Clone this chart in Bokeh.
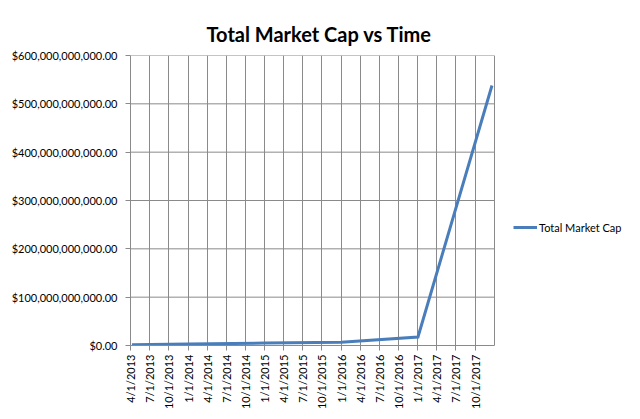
import pandas as pd
from math import pi
from bokeh.plotting import figure
from bokeh.models import (NumeralTickFormatter, FixedTicker, Legend, LegendItem,
                          Range1d)
from bokeh.embed import file_html
from bokeh.resources import INLINE

# ---- data ----
tick_labels = ["4/1/2013", "7/1/2013", "10/1/2013", "1/1/2014", "4/1/2014",
               "7/1/2014", "10/1/2014", "1/1/2015", "4/1/2015", "7/1/2015",
               "10/1/2015", "1/1/2016", "4/1/2016", "7/1/2016", "10/1/2016",
               "1/1/2017", "4/1/2017", "7/1/2017", "10/1/2017"]
grid_end_label = "1/1/2018"
dates = ["2013-04-08", "2014-01-01", "2015-01-01", "2016-01-01",
         "2017-01-01", "2017-12-20"]
market_cap = [1.5e9, 3.0e9, 5.0e9, 6.8e9, 17.5e9, 538e9]
y_ticks = [0, 100e9, 200e9, 300e9, 400e9, 500e9, 600e9]
series_name = "Total Market Cap"
title_text = "Total Market Cap vs Time"

# ---- derived ----
x = pd.to_datetime(dates)
tick_ts = pd.to_datetime(tick_labels, format="%m/%d/%Y")
tick_ms = [float(t.value // 10**6) for t in tick_ts]
end_ms = float(pd.to_datetime(grid_end_label, format="%m/%d/%Y").value // 10**6)

# layout (pixels)
W, H = 640, 419
LEFT, TOP, BOTTOM = 130, 55, 74
PLOT_RIGHT = 494          # where the plot area ends
FRAME_RIGHT = 630         # frame extends further so the legend can sit there
span = end_ms - tick_ms[0]
x_view_end = tick_ms[0] + span * (FRAME_RIGHT - LEFT) / (PLOT_RIGHT - LEFT)

FONT = "Lato"
GRID = "#8a8a8a"
FS = "11px"

p = figure(width=W, height=H, x_axis_type="datetime",
           output_backend="svg", toolbar_location=None,
           x_range=Range1d(tick_ms[0], x_view_end),
           y_range=Range1d(y_ticks[0], y_ticks[-1]),
           min_border_left=LEFT, min_border_right=W - FRAME_RIGHT,
           min_border_top=TOP, min_border_bottom=BOTTOM)

p.background_fill_color = "white"
p.border_fill_color = "white"
p.outline_line_color = None
# thin chart-area frame like the spreadsheet chart's border
p.styles = {"outline": "1px solid #b8b8b8", "outline-offset": "-5px"}

# title
p.title.text = title_text
p.title.align = "left"
p.title.offset = 76
p.title.text_font = FONT
p.title.text_font_style = "bold"
p.title.text_font_size = "20px"
p.title.text_color = "black"
p.title.standoff = 20

# horizontal gridlines, spanning only the plot area
p.segment(x0=[tick_ms[0]] * len(y_ticks), y0=y_ticks,
          x1=[end_ms] * len(y_ticks), y1=y_ticks,
          line_color=GRID, line_width=1)

r = p.line(x, market_cap, line_color="#4a7ebb", line_width=3,
           line_join="miter")

# x axis
xa = p.xaxis[0]
xa.ticker = FixedTicker(ticks=tick_ms)
xa.bounds = (tick_ms[0], end_ms)
xa.major_label_overrides = {ms: lab for ms, lab in zip(tick_ms, tick_labels)}
xa.major_label_orientation = pi / 2
xa.major_label_text_font = FONT
xa.major_label_text_font_size = FS
xa.major_label_text_color = "black"
xa.major_label_standoff = 4
xa.axis_line_color = GRID
xa.major_tick_line_color = GRID
xa.major_tick_out = 5
xa.major_tick_in = 0
xa.minor_tick_line_color = None

# y axis
ya = p.yaxis[0]
ya.ticker = FixedTicker(ticks=y_ticks)
ya.formatter = NumeralTickFormatter(format="$0,0.00")
ya.major_label_text_font = FONT
ya.major_label_text_font_size = FS
ya.major_label_text_color = "black"
ya.major_label_standoff = 8
ya.axis_line_color = GRID
ya.major_tick_line_color = GRID
ya.major_tick_out = 5
ya.major_tick_in = 0
ya.minor_tick_line_color = None

# grids: vertical lines (the last one is the plot area's right edge)
p.xgrid.ticker = FixedTicker(ticks=tick_ms + [end_ms])
p.xgrid.grid_line_color = GRID
p.xgrid.grid_line_width = 1
p.ygrid.grid_line_color = None

# legend to the right of the plot area
legend = Legend(items=[LegendItem(label=series_name, renderers=[r])],
                location=(513 - LEFT, 111), border_line_color=None,
                background_fill_alpha=0, padding=0, margin=0,
                glyph_width=24, glyph_height=14, label_standoff=2,
                label_text_font=FONT, label_text_font_size=FS,
                label_text_color="black")
p.add_layout(legend)

open("out.html", "w").write(file_html(p, INLINE))
